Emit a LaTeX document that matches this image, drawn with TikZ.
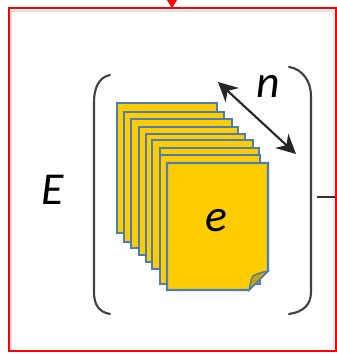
\documentclass[tikz,border=0pt]{standalone}
\usepackage{fontspec}
\setmainfont{Carlito}
\usetikzlibrary{arrows.meta}
\definecolor{sheetfill}{RGB}{255,204,0}
\definecolor{sheetline}{RGB}{74,126,187}
\definecolor{foldfill}{RGB}{204,163,0}
\definecolor{framered}{RGB}{255,0,0}
\tikzset{
sheet/.style={draw=sheetline,fill=sheetfill,line width=0.6pt},
bracket/.style={draw=black!75,line width=0.6pt,line cap=round},
label/.style={font=\fontsize{13}{15}\selectfont\itshape,inner sep=0pt}
}
\begin{document}
\begin{tikzpicture}
\useasboundingbox (0,0) rectangle (3.37,3.54);
\fill[white] (0,0) rectangle (3.37,3.54);

% soft edge inside the frame
\draw[black!12,line width=0.6pt] (0.105,0.03) -- (0.105,3.43) -- (3.33,3.43);
\draw[black!6,line width=0.6pt] (3.33,3.43) -- (3.33,0.05);

\foreach \l/\t/\r/\b in {1.17/2.51/2.17/1.21,1.24/2.42/2.24/1.12,1.31/2.35/2.32/1.06,1.39/2.27/2.38/0.99,1.46/2.20/2.45/0.92,1.52/2.14/2.53/0.85,1.60/2.06/2.59/0.71,1.60/1.99/2.60/0.70}{
\draw[sheet] (\l,\b) rectangle (\r,\t);
}

% front sheet with the turned corner
\draw[sheet] (1.67,0.64) -- (1.67,1.91) -- (2.68,1.91) -- (2.68,0.83) -- (2.49,0.64) -- cycle;
\draw[draw=sheetline,fill=foldfill,line width=0.4pt] (2.49,0.64) .. controls (2.51,0.72) and (2.51,0.76) .. (2.53,0.78) .. controls (2.58,0.81) and (2.63,0.82) .. (2.68,0.83) -- cycle;

\node[label] (e) at (2.16,1.33) {e};
\node[label] (E) at (0.53,1.64) {E};
\node[label] (n) at (2.68,2.68) {n};

\coordinate (nstart) at (2.18,2.72);
\coordinate (nend) at (2.96,2.00);
\draw[{Stealth[length=5.5pt,width=5.5pt]}-{Stealth[length=5.5pt,width=5.5pt]},black!85,line width=0.6pt] (nstart) -- (nend);

% brackets
\draw[bracket] (1.10,2.79) .. controls (0.99,2.77) and (0.94,2.66) .. (0.94,2.52) -- (0.94,0.62) .. controls (0.94,0.49) and (0.99,0.42) .. (1.10,0.40);
\draw[bracket] (2.89,2.87) .. controls (3.03,2.85) and (3.11,2.72) .. (3.11,2.58) -- (3.11,0.62) .. controls (3.11,0.49) and (3.03,0.42) .. (2.89,0.40);

\coordinate (stub) at (3.17,1.57);
\coordinate (stubend) at (3.36,1.57);
\draw[black!80,line width=0.5pt] (stub) -- (stubend);

% frame and the arrow coming down on it
\coordinate (topin) at (1.72,3.46);
\draw[framered,line width=0.55pt] (0.09,0.03) rectangle (3.36,3.46);
\fill[framered] (1.67,3.54) -- (1.77,3.54) -- (topin) -- cycle;
\end{tikzpicture}
\end{document}
